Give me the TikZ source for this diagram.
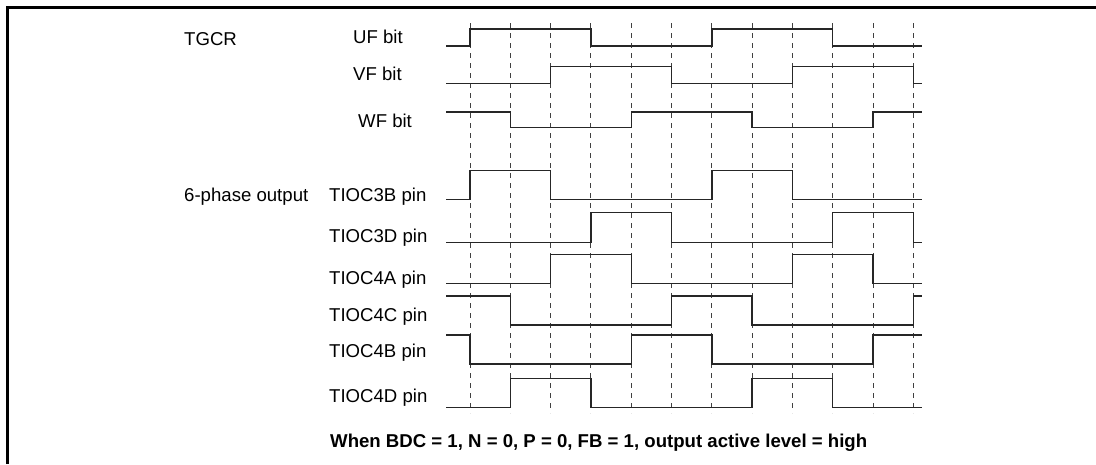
\documentclass[tikz,border=0pt]{standalone}
\usepackage{fontspec}
\setmainfont{Liberation Sans}
\usetikzlibrary{positioning}

\begin{document}
\begin{tikzpicture}[
    x=1pt, y=-1pt,
    lbl/.style={anchor=base west, inner sep=0pt, font=\fontsize{18.6}{22}\selectfont},
    sig/.style={line width=1.4pt, draw=black!85},
    tick/.style={line width=0.9pt, draw=black!75, dash pattern=on 5pt off 5pt},
    frame/.style={line width=3pt}
]
    \useasboundingbox (0,0) rectangle (1096,464);
    \draw[frame] (7.5,464) -- (7.5,7.5) -- (1096,7.5);

    % labels
    \node[lbl] (tgcr) at (184,45.7) {TGCR};
    \node[lbl] (uf) at (353,43.3) {UF bit};
    \node[lbl] (vf) at (353,80.7) {VF bit};
    \node[lbl] (wf) at (358,127.7) {WF bit};
    \node[lbl] (six) at (184,201.7) {6-phase output};
    \node[lbl] (p3b) at (329,201.7) {TIOC3B pin};
    \node[lbl] (p3d) at (329,242.7) {TIOC3D pin};
    \node[lbl] (p4a) at (329,284.3) {TIOC4A pin};
    \node[lbl] (p4c) at (329,321) {TIOC4C pin};
    \node[lbl] (p4b) at (329,357.3) {TIOC4B pin};
    \node[lbl] (p4d) at (329,402.7) {TIOC4D pin};
    \node[lbl, font=\fontsize{18.6}{22}\selectfont\bfseries] (cond) at (330,447.3)
        {When BDC = 1, N = 0, P = 0, FB = 1, output active level = high};

    % dashed time marks
    \foreach \k in {0,...,11} {
        \coordinate (t\k) at (470+40.3*\k,23);
        \coordinate (b\k) at (470+40.3*\k,413);
        \draw[tick] (t\k) -- (b\k);
    }

    % waveforms: start level / other level / edge pairs
    \foreach \A/\B/\edges in {46/29/{0/3,6/9}, 83.3/66.7/{2/5,8/11},
        112/127.7/{1/4,7/10}, 199.3/170.7/{0/2,6/8}, 242.3/212.7/{3/5,9/11},
        283.3/254.3/{2/4,8/10}, 296/325/{1/5,7/11}, 335/364/{0/4,6/10},
        407.3/378.3/{1/3,7/9}}
        \draw[sig] (446,\A) \foreach \a/\b in \edges {-| (t\a |- 0,\B) -| (t\b |- 0,\A)} -- (922,\A);
\end{tikzpicture}
\end{document}
